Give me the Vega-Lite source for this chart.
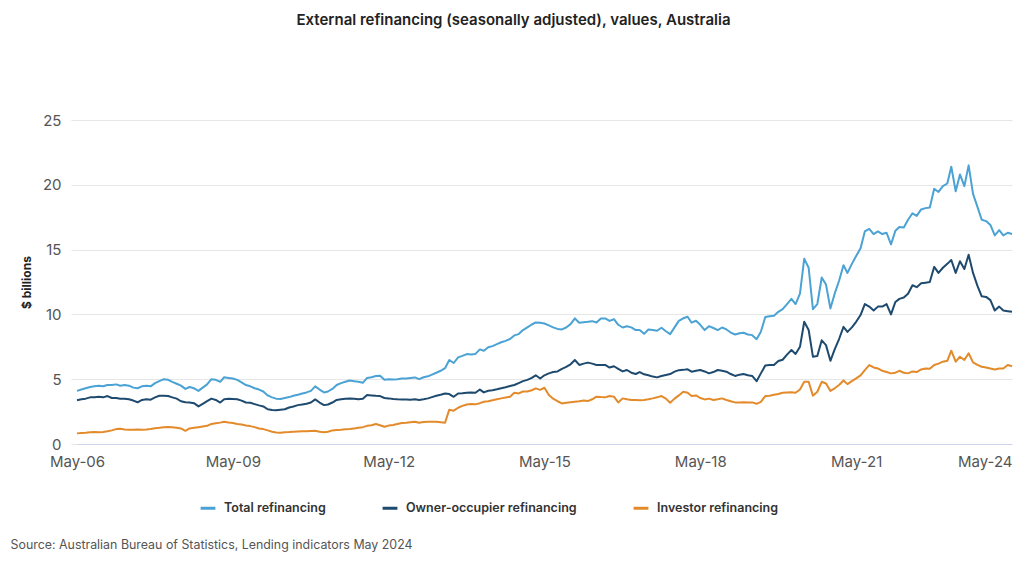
{
"$schema": "https://vega.github.io/schema/vega-lite/v6.json",
"width": 935, "height": 324,
"autosize": {"type": "none"},
"padding": {"left": 77, "top": 120, "right": 12, "bottom": 125},
"background": "white",
"title": {"text": "External refinancing (seasonally adjusted), values, Australia", "font": "Inter", "fontSize": 15, "fontWeight": 600, "color": "#222222", "anchor": "middle", "frame": "group", "offset": 85, "dx": -31},
"data": {"values": [
{"d":"2006-05","T":4.1,"O":3.38,"I":0.82},{"d":"2006-06","T":4.2,"O":3.45,"I":0.85},{"d":"2006-07","T":4.3,"O":3.5,"I":0.87},{"d":"2006-08","T":4.4,"O":3.6,"I":0.9},{"d":"2006-09","T":4.45,"O":3.6,"I":0.92},{"d":"2006-10","T":4.5,"O":3.65,"I":0.9},{"d":"2006-11","T":4.45,"O":3.6,"I":0.93},{"d":"2006-12","T":4.55,"O":3.7,"I":0.98},
{"d":"2007-01","T":4.55,"O":3.55,"I":1.05},{"d":"2007-02","T":4.6,"O":3.55,"I":1.15},{"d":"2007-03","T":4.5,"O":3.5,"I":1.18},{"d":"2007-04","T":4.55,"O":3.5,"I":1.12},{"d":"2007-05","T":4.5,"O":3.45,"I":1.1},{"d":"2007-06","T":4.35,"O":3.35,"I":1.1},{"d":"2007-07","T":4.3,"O":3.22,"I":1.12},{"d":"2007-08","T":4.45,"O":3.4,"I":1.1},{"d":"2007-09","T":4.5,"O":3.45,"I":1.12},{"d":"2007-10","T":4.45,"O":3.42,"I":1.15},{"d":"2007-11","T":4.7,"O":3.6,"I":1.22},{"d":"2007-12","T":4.85,"O":3.72,"I":1.25},
{"d":"2008-01","T":5.0,"O":3.73,"I":1.3},{"d":"2008-02","T":4.95,"O":3.7,"I":1.32},{"d":"2008-03","T":4.8,"O":3.6,"I":1.3},{"d":"2008-04","T":4.65,"O":3.5,"I":1.25},{"d":"2008-05","T":4.5,"O":3.3,"I":1.2},{"d":"2008-06","T":4.25,"O":3.22,"I":1.02},{"d":"2008-07","T":4.4,"O":3.2,"I":1.2},{"d":"2008-08","T":4.3,"O":3.15,"I":1.25},{"d":"2008-09","T":4.1,"O":2.9,"I":1.3},{"d":"2008-10","T":4.35,"O":3.1,"I":1.35},{"d":"2008-11","T":4.6,"O":3.3,"I":1.4},{"d":"2008-12","T":5.0,"O":3.5,"I":1.55},
{"d":"2009-01","T":4.95,"O":3.4,"I":1.6},{"d":"2009-02","T":4.8,"O":3.2,"I":1.65},{"d":"2009-03","T":5.15,"O":3.45,"I":1.72},{"d":"2009-04","T":5.1,"O":3.5,"I":1.66},{"d":"2009-05","T":5.05,"O":3.48,"I":1.62},{"d":"2009-06","T":4.95,"O":3.45,"I":1.55},{"d":"2009-07","T":4.75,"O":3.35,"I":1.5},{"d":"2009-08","T":4.55,"O":3.2,"I":1.42},{"d":"2009-09","T":4.45,"O":3.18,"I":1.38},{"d":"2009-10","T":4.3,"O":3.08,"I":1.3},{"d":"2009-11","T":4.2,"O":2.98,"I":1.2},{"d":"2009-12","T":4.05,"O":2.9,"I":1.15},
{"d":"2010-01","T":3.75,"O":2.68,"I":1.05},{"d":"2010-02","T":3.6,"O":2.62,"I":0.95},{"d":"2010-03","T":3.5,"O":2.6,"I":0.88},{"d":"2010-04","T":3.47,"O":2.65,"I":0.87},{"d":"2010-05","T":3.55,"O":2.68,"I":0.9},{"d":"2010-06","T":3.62,"O":2.82,"I":0.92},{"d":"2010-07","T":3.72,"O":2.9,"I":0.95},{"d":"2010-08","T":3.8,"O":3.0,"I":0.97},{"d":"2010-09","T":3.9,"O":3.05,"I":0.98},{"d":"2010-10","T":3.98,"O":3.1,"I":0.98},{"d":"2010-11","T":4.1,"O":3.2,"I":1.0},{"d":"2010-12","T":4.45,"O":3.44,"I":1.02},
{"d":"2011-01","T":4.2,"O":3.2,"I":0.95},{"d":"2011-02","T":3.98,"O":3.0,"I":0.9},{"d":"2011-03","T":4.05,"O":3.05,"I":0.95},{"d":"2011-04","T":4.25,"O":3.2,"I":1.05},{"d":"2011-05","T":4.55,"O":3.4,"I":1.08},{"d":"2011-06","T":4.7,"O":3.45,"I":1.1},{"d":"2011-07","T":4.8,"O":3.5,"I":1.13},{"d":"2011-08","T":4.9,"O":3.52,"I":1.15},{"d":"2011-09","T":4.85,"O":3.5,"I":1.2},{"d":"2011-10","T":4.8,"O":3.45,"I":1.25},{"d":"2011-11","T":4.72,"O":3.5,"I":1.3},{"d":"2011-12","T":5.1,"O":3.78,"I":1.4},
{"d":"2012-01","T":5.15,"O":3.75,"I":1.45},{"d":"2012-02","T":5.25,"O":3.72,"I":1.54},{"d":"2012-03","T":5.27,"O":3.7,"I":1.45},{"d":"2012-04","T":4.95,"O":3.55,"I":1.33},{"d":"2012-05","T":5.0,"O":3.52,"I":1.42},{"d":"2012-06","T":4.98,"O":3.48,"I":1.46},{"d":"2012-07","T":5.0,"O":3.45,"I":1.55},{"d":"2012-08","T":5.05,"O":3.44,"I":1.62},{"d":"2012-09","T":5.06,"O":3.44,"I":1.64},{"d":"2012-10","T":5.1,"O":3.42,"I":1.68},{"d":"2012-11","T":5.14,"O":3.45,"I":1.72},{"d":"2012-12","T":5.0,"O":3.4,"I":1.64},
{"d":"2013-01","T":5.15,"O":3.45,"I":1.7},{"d":"2013-02","T":5.22,"O":3.52,"I":1.72},{"d":"2013-03","T":5.35,"O":3.62,"I":1.72},{"d":"2013-04","T":5.5,"O":3.72,"I":1.72},{"d":"2013-05","T":5.65,"O":3.8,"I":1.68},{"d":"2013-06","T":5.85,"O":3.9,"I":1.64},{"d":"2013-07","T":6.48,"O":3.85,"I":2.65},{"d":"2013-08","T":6.25,"O":3.64,"I":2.57},{"d":"2013-09","T":6.68,"O":3.9,"I":2.8},{"d":"2013-10","T":6.8,"O":3.92,"I":2.94},{"d":"2013-11","T":6.94,"O":3.95,"I":3.05},{"d":"2013-12","T":6.9,"O":3.98,"I":3.08},
{"d":"2014-01","T":6.95,"O":3.95,"I":3.06},{"d":"2014-02","T":7.3,"O":4.2,"I":3.15},{"d":"2014-03","T":7.2,"O":3.98,"I":3.26},{"d":"2014-04","T":7.47,"O":4.11,"I":3.3},{"d":"2014-05","T":7.55,"O":4.15,"I":3.38},{"d":"2014-06","T":7.7,"O":4.22,"I":3.45},{"d":"2014-07","T":7.85,"O":4.3,"I":3.52},{"d":"2014-08","T":7.96,"O":4.38,"I":3.58},{"d":"2014-09","T":8.1,"O":4.47,"I":3.65},{"d":"2014-10","T":8.38,"O":4.55,"I":3.95},{"d":"2014-11","T":8.48,"O":4.7,"I":3.9},{"d":"2014-12","T":8.79,"O":4.85,"I":4.05},
{"d":"2015-01","T":9.0,"O":4.95,"I":4.05},{"d":"2015-02","T":9.22,"O":5.1,"I":4.15},{"d":"2015-03","T":9.38,"O":5.3,"I":4.29},{"d":"2015-04","T":9.35,"O":5.05,"I":4.18},{"d":"2015-05","T":9.3,"O":5.3,"I":4.34},{"d":"2015-06","T":9.15,"O":5.45,"I":3.78},{"d":"2015-07","T":9.0,"O":5.55,"I":3.5},{"d":"2015-08","T":8.88,"O":5.6,"I":3.3},{"d":"2015-09","T":8.84,"O":5.8,"I":3.13},{"d":"2015-10","T":8.99,"O":5.95,"I":3.18},{"d":"2015-11","T":9.25,"O":6.15,"I":3.22},{"d":"2015-12","T":9.69,"O":6.48,"I":3.26},
{"d":"2016-01","T":9.36,"O":6.1,"I":3.3},{"d":"2016-02","T":9.4,"O":6.2,"I":3.35},{"d":"2016-03","T":9.43,"O":6.28,"I":3.31},{"d":"2016-04","T":9.48,"O":6.2,"I":3.45},{"d":"2016-05","T":9.38,"O":6.1,"I":3.65},{"d":"2016-06","T":9.69,"O":6.1,"I":3.62},{"d":"2016-07","T":9.69,"O":6.1,"I":3.6},{"d":"2016-08","T":9.5,"O":5.9,"I":3.7},{"d":"2016-09","T":9.63,"O":6.0,"I":3.65},{"d":"2016-10","T":9.2,"O":5.8,"I":3.2},{"d":"2016-11","T":8.99,"O":5.6,"I":3.52},{"d":"2016-12","T":9.09,"O":5.71,"I":3.45},
{"d":"2017-01","T":9.0,"O":5.5,"I":3.4},{"d":"2017-02","T":8.79,"O":5.4,"I":3.39},{"d":"2017-03","T":8.79,"O":5.55,"I":3.38},{"d":"2017-04","T":8.5,"O":5.38,"I":3.4},{"d":"2017-05","T":8.84,"O":5.3,"I":3.45},{"d":"2017-06","T":8.8,"O":5.2,"I":3.52},{"d":"2017-07","T":8.74,"O":5.14,"I":3.6},{"d":"2017-08","T":8.97,"O":5.25,"I":3.7},{"d":"2017-09","T":8.7,"O":5.33,"I":3.5},{"d":"2017-10","T":8.48,"O":5.4,"I":3.18},{"d":"2017-11","T":9.0,"O":5.58,"I":3.5},{"d":"2017-12","T":9.5,"O":5.7,"I":3.75},
{"d":"2018-01","T":9.7,"O":5.72,"I":4.03},{"d":"2018-02","T":9.82,"O":5.76,"I":3.95},{"d":"2018-03","T":9.36,"O":5.58,"I":3.7},{"d":"2018-04","T":9.51,"O":5.65,"I":3.75},{"d":"2018-05","T":9.2,"O":5.71,"I":3.55},{"d":"2018-06","T":8.79,"O":5.6,"I":3.44},{"d":"2018-07","T":9.09,"O":5.45,"I":3.5},{"d":"2018-08","T":8.95,"O":5.55,"I":3.39},{"d":"2018-09","T":8.79,"O":5.71,"I":3.45},{"d":"2018-10","T":8.99,"O":5.65,"I":3.52},{"d":"2018-11","T":8.84,"O":5.58,"I":3.4},{"d":"2018-12","T":8.6,"O":5.4,"I":3.3},
{"d":"2019-01","T":8.45,"O":5.25,"I":3.21},{"d":"2019-02","T":8.55,"O":5.35,"I":3.2},{"d":"2019-03","T":8.58,"O":5.4,"I":3.22},{"d":"2019-04","T":8.45,"O":5.3,"I":3.2},{"d":"2019-05","T":8.4,"O":5.25,"I":3.21},{"d":"2019-06","T":8.09,"O":4.85,"I":3.1},{"d":"2019-07","T":8.66,"O":5.45,"I":3.25},{"d":"2019-08","T":9.8,"O":6.05,"I":3.7},{"d":"2019-09","T":9.85,"O":6.1,"I":3.73},{"d":"2019-10","T":9.9,"O":6.1,"I":3.8},{"d":"2019-11","T":10.2,"O":6.4,"I":3.86},{"d":"2019-12","T":10.4,"O":6.5,"I":3.96},
{"d":"2020-01","T":10.8,"O":6.9,"I":3.98},{"d":"2020-02","T":11.2,"O":7.25,"I":4.0},{"d":"2020-03","T":10.8,"O":6.95,"I":3.95},{"d":"2020-04","T":11.6,"O":7.5,"I":4.2},{"d":"2020-05","T":14.3,"O":9.43,"I":4.8},{"d":"2020-06","T":13.6,"O":8.8,"I":4.8},{"d":"2020-07","T":10.4,"O":6.74,"I":3.73},{"d":"2020-08","T":10.8,"O":6.79,"I":4.03},{"d":"2020-09","T":12.85,"O":8.0,"I":4.8},{"d":"2020-10","T":12.3,"O":7.63,"I":4.67},{"d":"2020-11","T":10.45,"O":6.42,"I":4.1},{"d":"2020-12","T":11.6,"O":7.3,"I":4.3},
{"d":"2021-01","T":12.6,"O":8.1,"I":4.55},{"d":"2021-02","T":13.8,"O":9.04,"I":4.9},{"d":"2021-03","T":13.2,"O":8.65,"I":4.62},{"d":"2021-04","T":13.9,"O":9.0,"I":4.85},{"d":"2021-05","T":14.5,"O":9.43,"I":5.06},{"d":"2021-06","T":15.1,"O":9.95,"I":5.3},{"d":"2021-07","T":16.4,"O":10.8,"I":5.7},{"d":"2021-08","T":16.6,"O":10.6,"I":6.09},{"d":"2021-09","T":16.2,"O":10.3,"I":5.91},{"d":"2021-10","T":16.4,"O":10.6,"I":5.83},{"d":"2021-11","T":16.2,"O":10.6,"I":5.65},{"d":"2021-12","T":16.3,"O":10.8,"I":5.55},
{"d":"2022-01","T":15.4,"O":10.0,"I":5.45},{"d":"2022-02","T":16.45,"O":10.96,"I":5.5},{"d":"2022-03","T":16.75,"O":11.2,"I":5.65},{"d":"2022-04","T":16.7,"O":11.3,"I":5.5},{"d":"2022-05","T":17.3,"O":11.6,"I":5.45},{"d":"2022-06","T":17.8,"O":12.25,"I":5.6},{"d":"2022-07","T":17.6,"O":12.1,"I":5.55},{"d":"2022-08","T":18.1,"O":12.4,"I":5.75},{"d":"2022-09","T":18.2,"O":12.45,"I":5.83},{"d":"2022-10","T":18.25,"O":12.5,"I":5.8},{"d":"2022-11","T":19.7,"O":13.67,"I":6.1},{"d":"2022-12","T":19.45,"O":13.2,"I":6.2},
{"d":"2023-01","T":19.9,"O":13.6,"I":6.35},{"d":"2023-02","T":20.1,"O":13.9,"I":6.42},{"d":"2023-03","T":21.4,"O":14.2,"I":7.2},{"d":"2023-04","T":19.5,"O":13.2,"I":6.35},{"d":"2023-05","T":20.8,"O":14.1,"I":6.73},{"d":"2023-06","T":19.9,"O":13.5,"I":6.48},{"d":"2023-07","T":21.5,"O":14.6,"I":7.0},{"d":"2023-08","T":19.3,"O":13.2,"I":6.3},{"d":"2023-09","T":18.3,"O":12.2,"I":6.1},{"d":"2023-10","T":17.3,"O":11.4,"I":5.96},{"d":"2023-11","T":17.2,"O":11.35,"I":5.9},{"d":"2023-12","T":16.9,"O":11.1,"I":5.83},
{"d":"2024-01","T":16.1,"O":10.3,"I":5.75},{"d":"2024-02","T":16.5,"O":10.6,"I":5.83},{"d":"2024-03","T":16.1,"O":10.3,"I":5.83},{"d":"2024-04","T":16.3,"O":10.25,"I":6.09},{"d":"2024-05","T":16.2,"O":10.2,"I":6.0}
]},
"transform": [{"fold": ["T", "O", "I"], "as": ["series", "value"]}],
"mark": {"type": "line", "strokeWidth": 2, "strokeJoin": "round"},
"encoding": {
  "x": {"field": "d", "type": "temporal",
    "scale": {"type": "utc", "domain": [{"year": 2006, "month": 5, "date": 1, "utc": true}, {"year": 2024, "month": 5, "date": 1, "utc": true}]},
    "axis": {
      "values": [{"year": 2006, "month": 5, "date": 1, "utc": true}, {"year": 2009, "month": 5, "date": 1, "utc": true}, {"year": 2012, "month": 5, "date": 1, "utc": true}, {"year": 2015, "month": 5, "date": 1, "utc": true}, {"year": 2018, "month": 5, "date": 1, "utc": true}, {"year": 2021, "month": 5, "date": 1, "utc": true}, {"year": 2024, "month": 5, "date": 1, "utc": true}],
      "format": "%b-%y", "grid": false, "ticks": false, "domain": true, "domainColor": "#ccd6eb", "domainWidth": 1,
      "labelFont": "Inter", "labelFontSize": 15, "labelColor": "#555555", "labelPadding": 10, "labelFlush": false, "labelOverlap": false,
      "labelAlign": {"condition": {"test": "utcyear(datum.value) == 2024", "value": "right"}, "value": "center"},
      "title": "Source: Australian Bureau of Statistics, Lending indicators May 2024",
      "titleFont": "Inter", "titleFontSize": 12.4, "titleFontWeight": "normal", "titleColor": "#555555",
      "titleAnchor": "start", "titleAlign": "left", "titleBaseline": "middle", "titleX": -67, "titleY": 100
    }},
  "y": {"field": "value", "type": "quantitative",
    "scale": {"domain": [0, 25], "nice": false},
    "axis": {"values": [0, 5, 10, 15, 20, 25], "grid": true, "gridColor": "#e6e6e6", "domain": false, "ticks": true, "tickColor": "#e6e6e6", "tickSize": 6,
      "labelFont": "Inter", "labelFontSize": 15, "labelColor": "#555555", "labelPadding": 10,
      "title": "$ billions", "titleFont": "Inter", "titleFontSize": 12, "titleFontWeight": "bold", "titleColor": "#222222", "titlePadding": 9}},
  "color": {"field": "series", "type": "nominal",
    "scale": {"domain": ["T", "O", "I"], "range": ["#4ba2d4", "#1d4a6e", "#e38a2a"]},
    "legend": {"orient": "none", "legendX": 122, "legendY": 379, "direction": "horizontal", "title": null,
      "labelExpr": "datum.label == 'T' ? 'Total refinancing' : datum.label == 'O' ? 'Owner-occupier refinancing' : 'Investor refinancing'",
      "symbolType": "stroke", "symbolStrokeWidth": 3, "symbolSize": 220, "labelFont": "Inter", "labelFontSize": 12.5, "labelFontWeight": 600, "labelColor": "#333333", "labelOffset": 7, "labelLimit": 400, "columnPadding": 50}}
},
"config": {"view": {"stroke": null}, "font": "Inter"}
}
